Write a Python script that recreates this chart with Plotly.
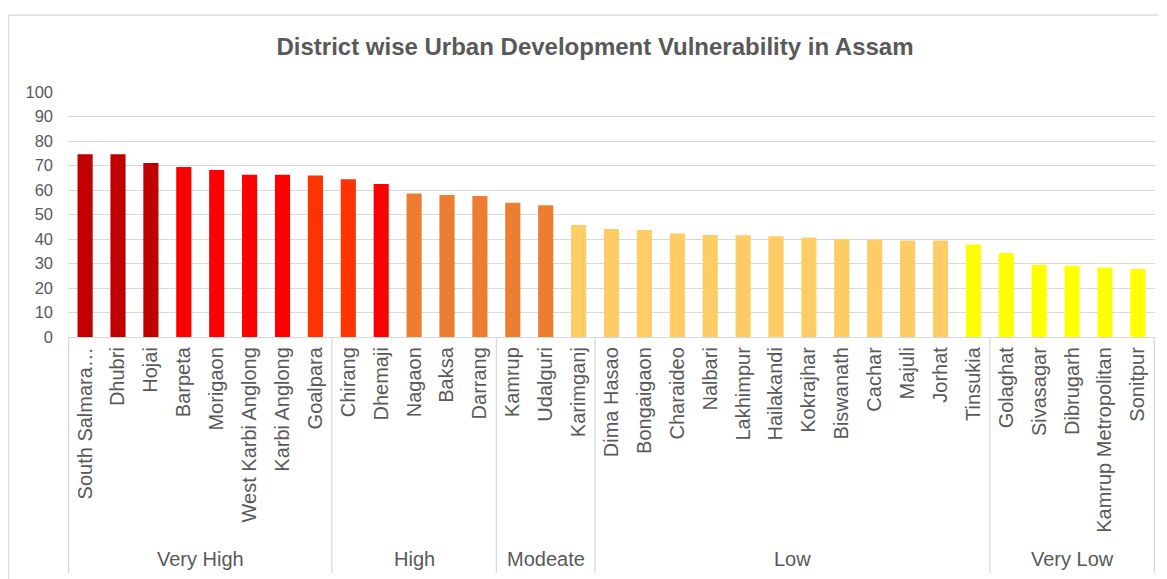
import plotly.graph_objects as go

districts = ["South Salmara…", "Dhubri", "Hojai", "Barpeta", "Morigaon", "West Karbi Anglong",
             "Karbi Anglong", "Goalpara", "Chirang", "Dhemaji", "Nagaon", "Baksa", "Darrang",
             "Kamrup", "Udalguri", "Karimganj", "Dima Hasao", "Bongaigaon", "Charaideo", "Nalbari",
             "Lakhimpur", "Hailakandi", "Kokrajhar", "Biswanath", "Cachar", "Majuli", "Jorhat",
             "Tinsukia", "Golaghat", "Sivasagar", "Dibrugarh", "Kamrup Metropolitan", "Sonitpur"]
scores = [74.6, 74.6, 71.0, 69.4, 68.2, 66.2, 66.2, 65.9, 64.4, 62.5, 58.6, 58.0, 57.6,
          54.8, 53.8, 45.7, 44.1, 43.7, 42.2, 41.6, 41.5, 41.1, 40.6, 40.0, 39.8, 39.4, 39.4,
          37.8, 34.3, 29.5, 29.1, 28.4, 27.8]
bar_colors = ["#C00000"] * 3 + ["#FF0000"] * 4 + ["#FF3300"] * 2 + ["#FF0000"] + \
             ["#ED7D31"] * 5 + ["#FFCC66"] * 12 + ["#FFFF00"] * 6
groups = ["Very High", "High", "Modeate", "Low", "Very Low"]
group_sizes = [8, 5, 3, 12, 5]

grey = "#595959"
line_grey = "#D9D9D9"
font = "Liberation Sans, Arial, sans-serif"

fig = go.Figure(go.Bar(x=districts, y=scores, marker_color=bar_colors,
                       marker_line_width=0, hoverinfo="x+y"))

# group dividers and labels under the axis
shapes = []
annotations = []
start = 0
edges = [-0.5]
for g, n in zip(groups, group_sizes):
    annotations.append(dict(x=start + (n - 1) / 2, y=-0.906, xref="x", yref="paper",
                            text=g, showarrow=False, yanchor="middle",
                            font=dict(size=20, color=grey, family=font)))
    start += n
    edges.append(start - 0.5)
for e in edges:
    shapes.append(dict(type="line", xref="x", yref="paper", x0=e, x1=e, y0=0, y1=-0.963,
                       line=dict(color=line_grey, width=1.3)))
# chart border (right and bottom edges fall outside the picture)
shapes.append(dict(type="rect", xref="paper", yref="paper", x0=-0.0547, x1=1.03,
                   y0=-1.2, y1=1.3136, line=dict(color=line_grey, width=1.3), layer="below"))

fig.update_layout(
    width=1159, height=571,
    margin=dict(l=60, r=12, t=84, b=241.5),
    paper_bgcolor="white", plot_bgcolor="white",
    bargap=0.54,
    showlegend=False,
    font=dict(family=font, color=grey),
    title=dict(text="<b>District wise Urban Development Vulnerability in Assam</b>",
               x=0.5065, xanchor="center", xref="container", y=1 - 39 / 571, yanchor="middle",
               font=dict(size=24, color=grey, family=font)),
    shapes=shapes,
    annotations=annotations,
)
fig.update_xaxes(type="category", tickangle=-90, showline=True, linecolor=line_grey,
                 linewidth=1.3, showgrid=False, ticks="", ticklabelstandoff=1,
                 tickfont=dict(size=20, color=grey, family=font))
fig.update_yaxes(range=[0, 100], dtick=10, showgrid=True, gridcolor=line_grey, gridwidth=1.3,
                 zeroline=False, showline=False, ticks="", ticklabelstandoff=14,
                 tickfont=dict(size=16.5, color=grey, family=font))

fig.write_html("out.html")
